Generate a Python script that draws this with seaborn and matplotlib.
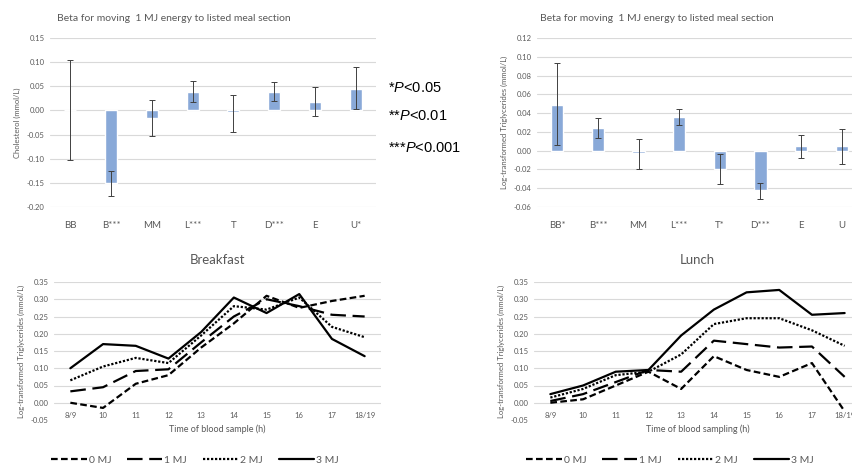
import numpy as np
import pandas as pd
import matplotlib
matplotlib.use("Agg")
import matplotlib.pyplot as plt
import seaborn as sns

# ### Data
meal_chol = ["BB", "B***", "MM", "L***", "T", "D***", "E", "U*"]
beta_chol = [0.001, -0.150, -0.015, 0.038, -0.004, 0.038, 0.017, 0.045]
chol_lo = [-0.103, -0.177, -0.053, 0.017, -0.044, 0.020, -0.011, 0.002]
chol_hi = [0.105, -0.125, 0.021, 0.060, 0.032, 0.058, 0.048, 0.090]

meal_tg = ["BB*", "B***", "MM", "L***", "T*", "D***", "E", "U"]
beta_tg = [0.049, 0.024, -0.003, 0.036, -0.020, -0.042, 0.005, 0.005]
tg_lo = [0.006, 0.014, -0.020, 0.027, -0.036, -0.051, -0.008, -0.014]
tg_hi = [0.093, 0.035, 0.012, 0.044, -0.004, -0.034, 0.017, 0.023]

times = ["8/9", "10", "11", "12", "13", "14", "15", "16", "17", "18/19"]
energy = ["0 MJ", "1 MJ", "2 MJ", "3 MJ"]

breakfast = {
    "0 MJ": [0.000, -0.015, 0.055, 0.080, 0.160, 0.230, 0.310, 0.275, 0.295, 0.310],
    "1 MJ": [0.033, 0.045, 0.092, 0.097, 0.175, 0.250, 0.300, 0.280, 0.255, 0.250],
    "2 MJ": [0.065, 0.105, 0.130, 0.115, 0.195, 0.280, 0.270, 0.305, 0.220, 0.190],
    "3 MJ": [0.100, 0.170, 0.165, 0.128, 0.205, 0.305, 0.260, 0.315, 0.185, 0.135],
}
lunch = {
    "0 MJ": [0.000, 0.010, 0.050, 0.090, 0.040, 0.135, 0.095, 0.075, 0.115, -0.025],
    "1 MJ": [0.005, 0.025, 0.060, 0.095, 0.090, 0.180, 0.170, 0.160, 0.163, 0.075],
    "2 MJ": [0.015, 0.040, 0.080, 0.090, 0.140, 0.228, 0.245, 0.245, 0.210, 0.165],
    "3 MJ": [0.025, 0.050, 0.090, 0.095, 0.195, 0.270, 0.320, 0.327, 0.255, 0.260],
}

sns.set_style("white")
plt.rcParams["font.family"] = ["Lato", "DejaVu Sans"]
plt.rcParams["mathtext.fontset"] = "custom"
plt.rcParams["mathtext.rm"] = "Liberation Sans"
plt.rcParams["mathtext.it"] = "Liberation Sans:italic"

GREY = "#595959"
GRID = "#d9d9d9"
BAR = "#89a9d8"
ERR = "#404040"
W, H = 853, 467


def px_axes(fig, x0, y0, x1, y1):
    # pixel box (top-left origin) -> figure fraction axes
    return fig.add_axes([x0 / W, 1 - y1 / H, (x1 - x0) / W, (y1 - y0) / H])


def style_axes(ax, ylabel, yticks, fmt):
    for s in ax.spines.values():
        s.set_visible(False)
    ax.set_yticks(yticks)
    ax.set_yticklabels([fmt % v for v in yticks], fontsize=5.5, color=GREY)
    ax.yaxis.grid(True, color=GRID, linewidth=0.8)
    ax.set_axisbelow(True)
    ax.tick_params(length=0, pad=4)
    ax.set_ylabel(ylabel, fontsize=5.5, color=GREY)


def bar_panel(ax, labels, beta, lo, hi, ylabel, yticks, tx):
    df = pd.DataFrame({"meal": labels, "beta": beta})
    sns.barplot(data=df, x="meal", y="beta", color=BAR, width=0.3,
                saturation=1, errorbar=None, ax=ax)
    pos = np.arange(len(labels))
    b = np.array(beta)
    yerr = [b - np.array(lo), np.array(hi) - b]
    ax.errorbar(pos, b, yerr=yerr, fmt="none", ecolor=ERR, elinewidth=0.7,
                capsize=2, capthick=0.7)
    style_axes(ax, ylabel, yticks, "%.2f")
    ax.set_ylim(yticks[0], yticks[-1])
    ax.set_xlim(-0.5, len(labels) - 0.5)
    ax.set_xlabel("")
    ax.tick_params(axis="x", labelsize=7, labelcolor=GREY, pad=10)
    ax.set_title("Beta for moving  1 MJ energy to listed meal section",
                 fontsize=7.5, color=GREY, pad=12, loc="left", x=tx)


def line_panel(ax, data, title, xlabel):
    dashes = {"0 MJ": (3, 1.5), "1 MJ": (7, 3), "2 MJ": (1, 0.8), "3 MJ": ""}
    rows = []
    for e in energy:
        for i, v in enumerate(data[e]):
            rows.append({"t": i, "v": v, "energy": e})
    df = pd.DataFrame(rows)
    sns.lineplot(data=df, x="t", y="v", style="energy", dashes=dashes,
                 color="black", linewidth=1.6, ax=ax, legend=False)
    yt = [-0.05, 0.0, 0.05, 0.10, 0.15, 0.20, 0.25, 0.30, 0.35]
    style_axes(ax, "Log-transformed Triglycerides (mmol/L)", yt, "%.2f")
    ax.yaxis.get_gridlines()[0].set_visible(False)
    ax.set_ylim(-0.05, 0.35)
    ax.set_xlim(-0.5, len(times) - 0.5)
    ax.set_xticks(range(len(times)))
    ax.set_xticklabels(times, fontsize=5.5, color=GREY)
    ax.tick_params(axis="x", pad=-6)
    ax.set_xlabel(xlabel, fontsize=6.5, color=GREY, labelpad=3)
    ax.set_title(title, fontsize=9.5, color=GREY, pad=13)
    return dashes


fig = plt.figure(figsize=(W / 100, H / 100), dpi=100)

ax1 = px_axes(fig, 50, 38, 376, 207)
bar_panel(ax1, meal_chol, beta_chol, chol_lo, chol_hi, "Cholesterol (mmol/L)",
          [-0.20, -0.15, -0.10, -0.05, 0.0, 0.05, 0.10, 0.15], 0.02)

ax2 = px_axes(fig, 537, 38, 862, 207)
bar_panel(ax2, meal_tg, beta_tg, tg_lo, tg_hi,
          "Log-transformed Triglycerides (mmol/L)",
          [-0.06, -0.04, -0.02, 0.0, 0.02, 0.04, 0.06, 0.08, 0.10, 0.12], 0.01)

# significance key
for txt, y in [(r"*$\it{P}$<0.05", 88), (r"**$\it{P}$<0.01", 116),
               (r"***$\it{P}$<0.001", 148)]:
    fig.text(388 / W, 1 - y / H, txt, fontsize=10.5, color="black",
             va="center", family="Liberation Sans")

ax3 = px_axes(fig, 54, 282, 381, 420)
dashes = line_panel(ax3, breakfast, "Breakfast", "Time of blood sample (h)")

ax4 = px_axes(fig, 534, 282, 861, 420)
line_panel(ax4, lunch, "Lunch", "Time of blood sampling (h)")

# legends under the line charts
handles = [plt.Line2D([], [], color="black", linewidth=1.6,
                      dashes=dashes[e] if dashes[e] else (None, None))
           for e in energy]
for cx in (195, 670):
    fig.legend(handles, energy, loc="center", bbox_to_anchor=(cx / W, 7 / H),
               ncol=4, frameon=False, fontsize=7.5, handlelength=3.4,
               columnspacing=1.5, handletextpad=0.2, labelcolor=GREY)

fig.savefig("out.png", dpi=100)
